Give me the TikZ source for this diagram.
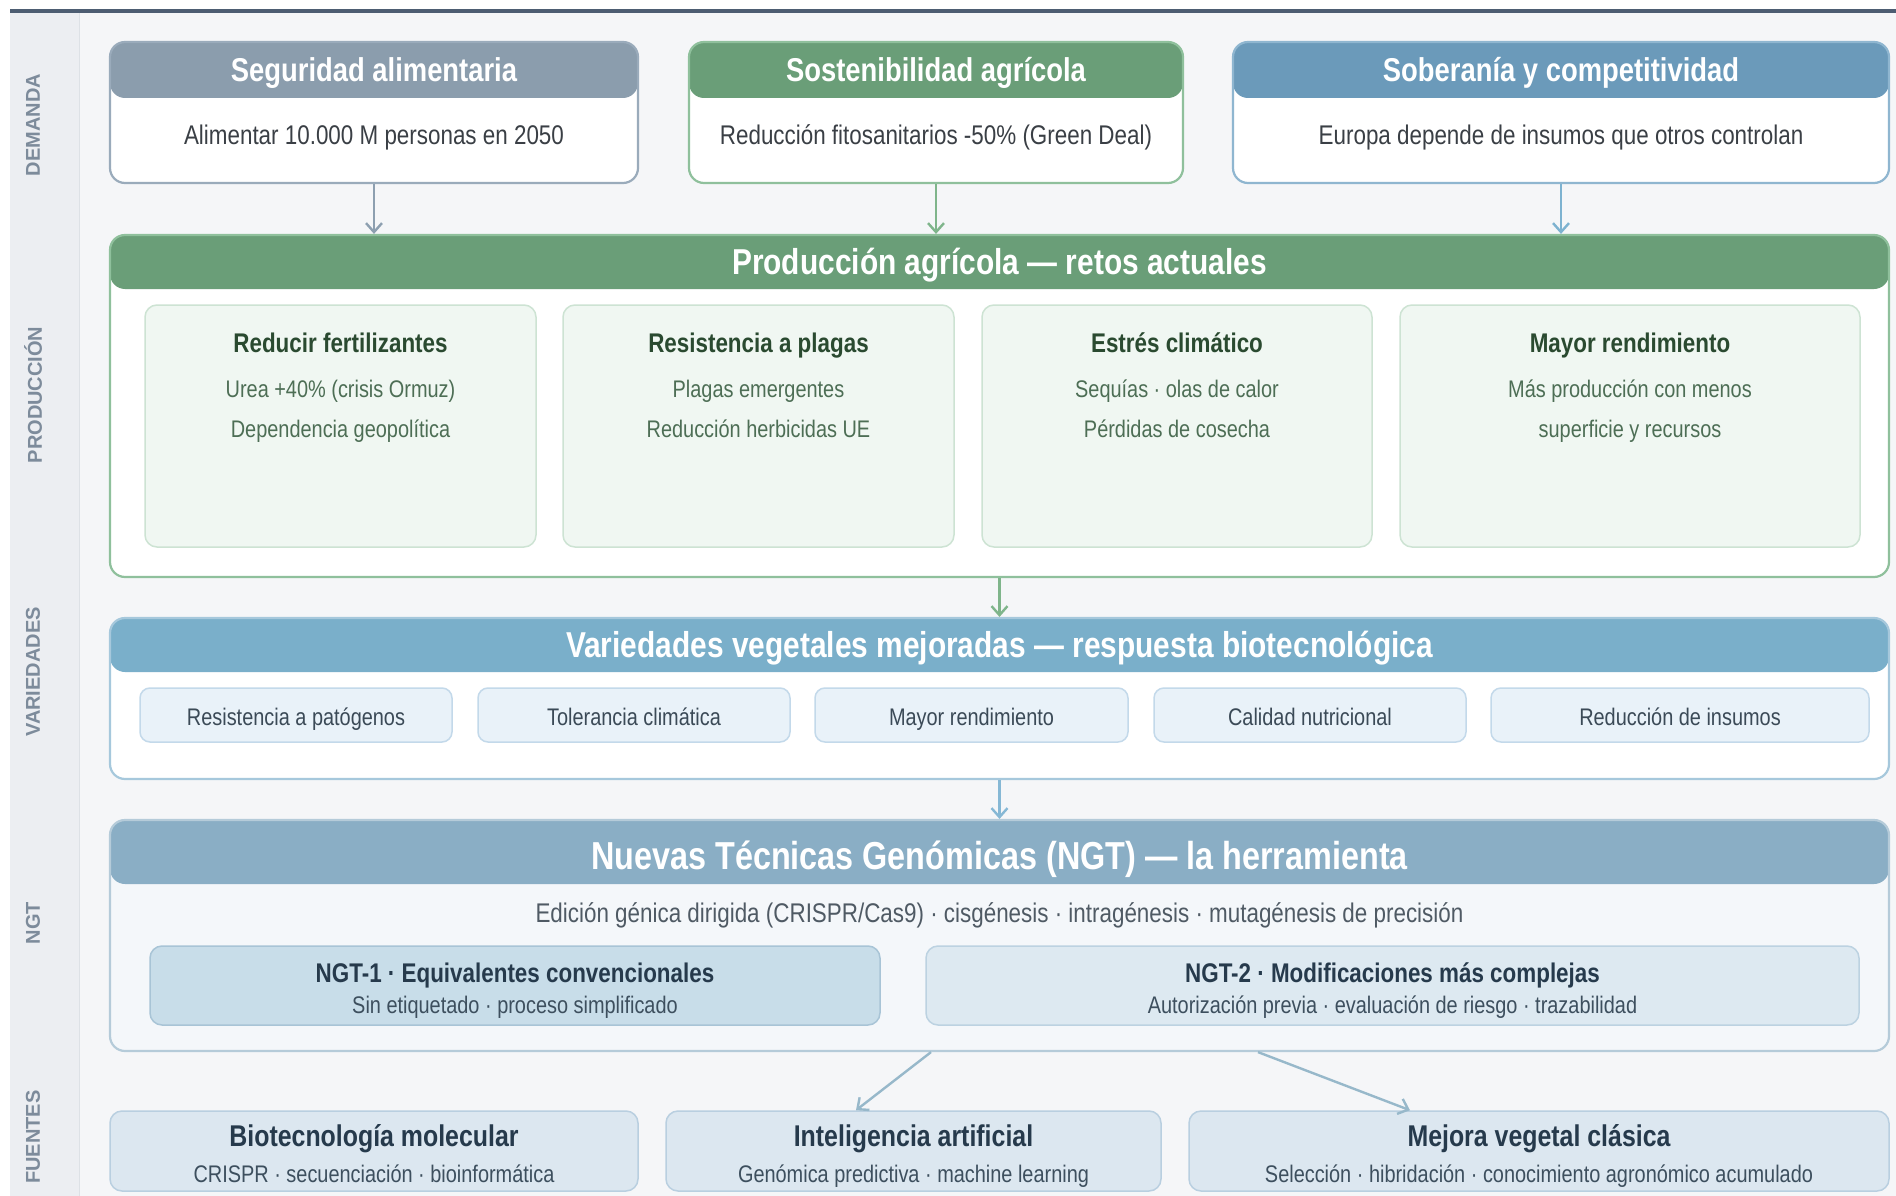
\documentclass[tikz,border=0pt]{standalone}
\usepackage{fontspec}
\setmainfont{Liberation Sans}[FakeStretch=0.83]
\newfontfamily\lblfont{Liberation Sans}
\usetikzlibrary{arrows.meta}
\definecolor{bgmain}{HTML}{F5F6F8}
\definecolor{bgstrip}{HTML}{ECEEF2}
\definecolor{stripline}{HTML}{DDE1E6}
\definecolor{topbar}{HTML}{4D5D72}
\definecolor{lblc}{HTML}{7D8B9B}
\definecolor{hgray}{HTML}{8B9DAD}
\definecolor{bgray}{HTML}{9AABBB}
\definecolor{hgreen}{HTML}{6A9E78}
\definecolor{bgreen}{HTML}{8FC09C}
\definecolor{hblue}{HTML}{6B9ABA}
\definecolor{bblue}{HTML}{8FB6D0}
\definecolor{bodytxt}{HTML}{3A3F45}
\definecolor{cardfill}{HTML}{F0F7F2}
\definecolor{cardline}{HTML}{CDE3D3}
\definecolor{cardttl}{HTML}{2A4A30}
\definecolor{cardtxt}{HTML}{4D6E55}
\definecolor{hvar}{HTML}{7AAFCA}
\definecolor{bvar}{HTML}{A6C8DC}
\definecolor{pillfill}{HTML}{E9F2F9}
\definecolor{pillline}{HTML}{C3D9EA}
\definecolor{pilltxt}{HTML}{3B4A57}
\definecolor{hngt}{HTML}{8AAEC5}
\definecolor{bngt}{HTML}{B5CBD9}
\definecolor{ngtfill}{HTML}{F4F7FA}
\definecolor{subtxt}{HTML}{4F5A64}
\definecolor{n1fill}{HTML}{C8DDE9}
\definecolor{n1line}{HTML}{A8C4D6}
\definecolor{n2fill}{HTML}{DDE9F1}
\definecolor{n2line}{HTML}{BCD2E1}
\definecolor{darkttl}{HTML}{263A4C}
\definecolor{darksub}{HTML}{3D4F5E}
\definecolor{srcfill}{HTML}{DCE7F0}
\definecolor{srcline}{HTML}{B9CFE0}
\definecolor{agray}{HTML}{8D9FB0}
\definecolor{agreen}{HTML}{7FB58B}
\definecolor{ablue}{HTML}{7DB2D0}
\definecolor{avar}{HTML}{86B8D5}
\definecolor{angt}{HTML}{97B8CA}
\tikzset{
  panel/.style n args={4}{draw=#2, fill=#4, rounded corners=15pt, line width=2.2pt, inner sep=0pt,
    path picture={\fill[#1] (path picture bounding box.north west) rectangle ([yshift=-#3pt]path picture bounding box.north east);}},
  card/.style={draw=cardline, fill=cardfill, rounded corners=12pt, line width=1.5pt, inner sep=0pt},
  pill/.style={draw=pillline, fill=pillfill, rounded corners=10pt, line width=1.5pt, inner sep=0pt},
  ngtbox/.style n args={2}{draw=#2, fill=#1, rounded corners=12pt, line width=1.5pt, inner sep=0pt},
  txt/.style={inner sep=0pt, anchor=base},
  dttl/.style={txt, text=white, font=\bfseries\fontsize{33}{40}\selectfont},
  dbody/.style={txt, text=bodytxt, font=\fontsize{27}{32}\selectfont},
  bigttl/.style={txt, text=white, font=\bfseries\fontsize{36}{42}\selectfont},
  cttl/.style={txt, text=cardttl, font=\bfseries\fontsize{27}{32}\selectfont},
  ctxt/.style={txt, text=cardtxt, font=\fontsize{24}{28}\selectfont},
  ptxt/.style={txt, text=pilltxt, font=\fontsize{24}{28}\selectfont},
  nttl/.style={txt, text=darkttl, font=\bfseries\fontsize{27}{32}\selectfont},
  nsub/.style={txt, text=darksub, font=\fontsize{24}{28}\selectfont},
  sttl/.style={txt, text=darkttl, font=\bfseries\fontsize{30}{36}\selectfont},
  lbl/.style={inner sep=0pt, rotate=90, text=lblc, font=\lblfont\bfseries\fontsize{20}{24}\selectfont},
  arr/.style={line width=2.4pt, -{Straight Barb[length=9pt,width=16pt]}},
}
\begin{document}
\begin{tikzpicture}[x=1pt,y=-1pt]
\useasboundingbox (0,0) rectangle (1896,1196);
% background
\fill[white] (0,0) rectangle (1896,1196);
\fill[bgmain] (79,13) rectangle (1896,1196);
\fill[bgstrip] (10,13) rectangle (79,1196);
\draw[stripline, line width=1pt] (79,13) -- (79,1196);
\fill[topbar] (10,9) rectangle (1896,13);
% side labels
\node[lbl] (l1) at (33,125) {DEMANDA};
\node[lbl] (l2) at (33,395) {PRODUCCIÓN};
\node[lbl] (l3) at (33,672) {VARIEDADES};
\node[lbl] (l4) at (33,923) {NGT};
\node[lbl] (l5) at (33,1137) {FUENTES};
% demand
\node[panel={hgray}{bgray}{56}{white}, minimum width=528pt, minimum height=141pt] (d1) at (374,112.5) {};
\node[panel={hgreen}{bgreen}{56}{white}, minimum width=494pt, minimum height=141pt] (d2) at (936,112.5) {};
\node[panel={hblue}{bblue}{56}{white}, minimum width=656pt, minimum height=141pt] (d3) at (1561,112.5) {};
\node[dttl] (d1t) at (374,82) {Seguridad alimentaria};
\node[dttl] (d2t) at (936,82) {Sostenibilidad agrícola};
\node[dttl] (d3t) at (1561,82) {Soberanía y competitividad};
\node[dbody] (d1b) at (374,145) {Alimentar 10.000 M personas en 2050};
\node[dbody] (d2b) at (936,145) {Reducción fitosanitarios -50\% (Green Deal)};
\node[dbody] (d3b) at (1561,145) {Europa depende de insumos que otros controlan};
% production
\node[panel={hgreen}{bgreen}{54}{white}, minimum width=1779pt, minimum height=342pt] (prod) at (999.5,406) {};
\node[bigttl] (prodt) at (999.5,274) {Producción agrícola — retos actuales};
\node[card, minimum width=391pt, minimum height=242pt] (c1) at (340.5,426) {};
\node[card, minimum width=391pt, minimum height=242pt] (c2) at (758.5,426) {};
\node[card, minimum width=390pt, minimum height=242pt] (c3) at (1177,426) {};
\node[card, minimum width=460pt, minimum height=242pt] (c4) at (1630,426) {};
\node[cttl] (c1t) at (340.5,352) {Reducir fertilizantes};
\node[ctxt] (c1a) at (340.5,397) {Urea +40\% (crisis Ormuz)};
\node[ctxt] (c1b) at (340.5,437) {Dependencia geopolítica};
\node[cttl] (c2t) at (758.5,352) {Resistencia a plagas};
\node[ctxt] (c2a) at (758.5,397) {Plagas emergentes};
\node[ctxt] (c2b) at (758.5,437) {Reducción herbicidas UE};
\node[cttl] (c3t) at (1177,352) {Estrés climático};
\node[ctxt] (c3a) at (1177,397) {Sequías · olas de calor};
\node[ctxt] (c3b) at (1177,437) {Pérdidas de cosecha};
\node[cttl] (c4t) at (1630,352) {Mayor rendimiento};
\node[ctxt] (c4a) at (1630,397) {Más producción con menos};
\node[ctxt] (c4b) at (1630,437) {superficie y recursos};
% variedades
\node[panel={hvar}{bvar}{54}{white}, minimum width=1779pt, minimum height=161pt] (var) at (999.5,698.5) {};
\node[bigttl] (vart) at (999.5,657) {Variedades vegetales mejoradas — respuesta biotecnológica};
\node[pill, minimum width=312pt, minimum height=54pt] (p1) at (296,715) {};
\node[pill, minimum width=312pt, minimum height=54pt] (p2) at (634,715) {};
\node[pill, minimum width=313pt, minimum height=54pt] (p3) at (971.5,715) {};
\node[pill, minimum width=312pt, minimum height=54pt] (p4) at (1310,715) {};
\node[pill, minimum width=378pt, minimum height=54pt] (p5) at (1680,715) {};
\node[ptxt] (p1t) at (296,725) {Resistencia a patógenos};
\node[ptxt] (p2t) at (634,725) {Tolerancia climática};
\node[ptxt] (p3t) at (971.5,725) {Mayor rendimiento};
\node[ptxt] (p4t) at (1310,725) {Calidad nutricional};
\node[ptxt] (p5t) at (1680,725) {Reducción de insumos};
% NGT
\node[panel={hngt}{bngt}{64}{ngtfill}, minimum width=1779pt, minimum height=231pt] (ngt) at (999.5,935.5) {};
\node[txt, text=white, font=\bfseries\fontsize{39}{46}\selectfont] (ngtt) at (999.5,869) {Nuevas Técnicas Genómicas (NGT) — la herramienta};
\node[txt, text=subtxt, font=\fontsize{27}{32}\selectfont] (ngts) at (999.5,922) {Edición génica dirigida (CRISPR/Cas9) · cisgénesis · intragénesis · mutagénesis de precisión};
\node[ngtbox={n1fill}{n1line}, minimum width=730pt, minimum height=79pt] (n1) at (515,985.5) {};
\node[ngtbox={n2fill}{n2line}, minimum width=933pt, minimum height=79pt] (n2) at (1392.5,985.5) {};
\node[nttl] (n1t) at (515,982) {NGT-1 · Equivalentes convencionales};
\node[nsub] (n1s) at (515,1013) {Sin etiquetado · proceso simplificado};
\node[nttl] (n2t) at (1392.5,982) {NGT-2 · Modificaciones más complejas};
\node[nsub] (n2s) at (1392.5,1013) {Autorización previa · evaluación de riesgo · trazabilidad};
% fuentes
\node[ngtbox={srcfill}{srcline}, minimum width=528pt, minimum height=80pt] (f1) at (374,1151) {};
\node[ngtbox={srcfill}{srcline}, minimum width=495pt, minimum height=80pt] (f2) at (913.5,1151) {};
\node[ngtbox={srcfill}{srcline}, minimum width=700pt, minimum height=80pt] (f3) at (1539,1151) {};
\node[sttl] (f1t) at (374,1146) {Biotecnología molecular};
\node[nsub] (f1s) at (374,1182) {CRISPR · secuenciación · bioinformática};
\node[sttl] (f2t) at (913.5,1146) {Inteligencia artificial};
\node[nsub] (f2s) at (913.5,1182) {Genómica predictiva · machine learning};
\node[sttl] (f3t) at (1539,1146) {Mejora vegetal clásica};
\node[nsub] (f3s) at (1539,1182) {Selección · hibridación · conocimiento agronómico acumulado};
% connectors
\draw[arr, agray] (d1.south) -- (d1.south |- prod.north);
\draw[arr, agreen] (d2.south) -- (d2.south |- prod.north);
\draw[arr, ablue] (d3.south) -- (d3.south |- prod.north);
\draw[arr, agreen] (prod.south) -- (var.north);
\draw[arr, avar] (var.south) -- (ngt.north);
\draw[arr, angt] (931,0 |- ngt.south) -- (856,0 |- f2.north);
\draw[arr, angt] (1258,0 |- ngt.south) -- (1410,0 |- f3.north);
\end{tikzpicture}
\end{document}
